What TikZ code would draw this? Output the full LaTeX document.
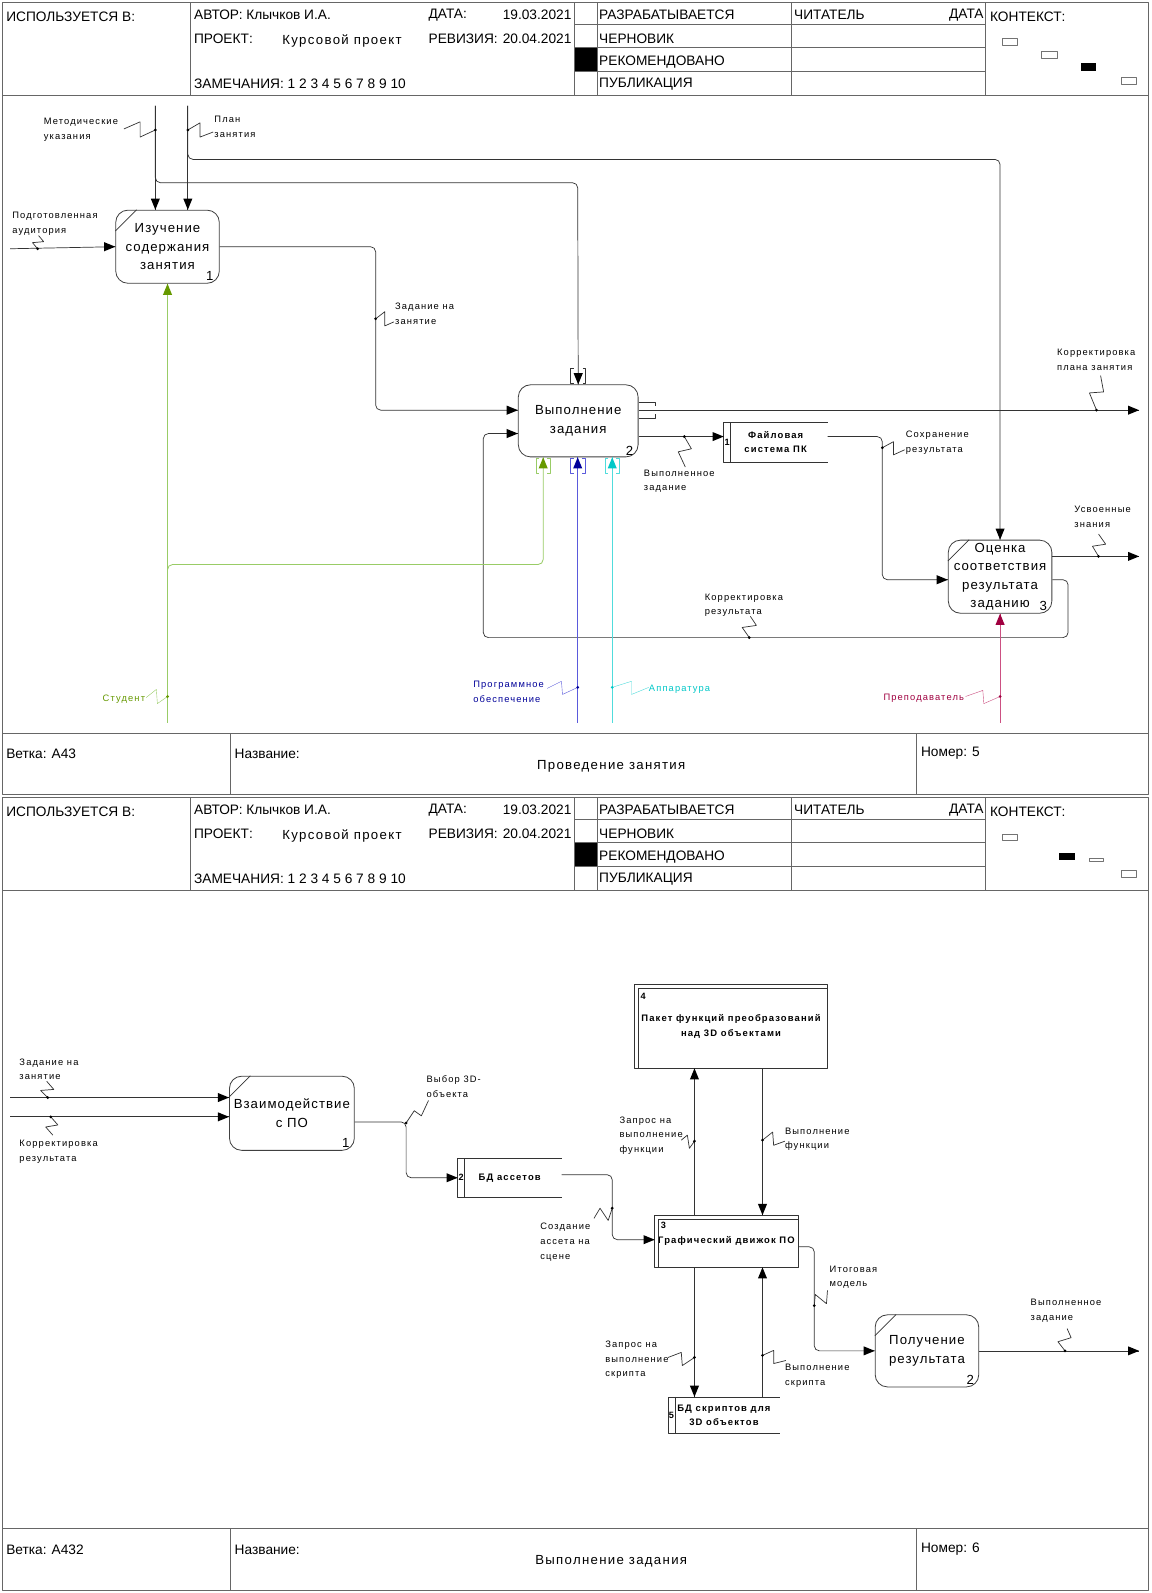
\documentclass[tikz,border=0pt]{standalone}
\usepackage{fontspec}
\setmainfont{Liberation Sans}
\newfontfamily\lblfont[LetterSpace=12]{Liberation Sans}
\newfontfamily\boxfont[LetterSpace=8]{Liberation Sans}
\newfontfamily\ttlfont[LetterSpace=10]{Liberation Sans}
\usetikzlibrary{positioning,calc}
\definecolor{stud}{RGB}{153,204,102}
\definecolor{studtxt}{RGB}{102,153,0}
\definecolor{soft}{RGB}{90,90,220}
\definecolor{softtxt}{RGB}{0,0,153}
\definecolor{hw}{RGB}{80,220,220}
\definecolor{hwtxt}{RGB}{0,200,200}
\definecolor{prep}{RGB}{204,80,130}
\definecolor{preptxt}{RGB}{160,0,64}

\begin{document}
\begin{tikzpicture}[x=1pt,y=-1pt,line join=round,
    frm/.style={draw=black!60,line width=0.9},
    ctx/.style={draw=black!55,line width=0.6},
    conn/.style={draw=black!80,line width=0.7},
    act/.style={draw=black!75,line width=0.8,rounded corners=12,minimum width=102,minimum height=72,inner sep=0,align=center,font=\boxfont\fontsize{13}{18}\selectfont,execute at begin node={\rule{0pt}{19pt}}},
    store/.style={minimum width=102,minimum height=39,inner sep=0,align=center,font=\lblfont\bfseries\fontsize{9.3}{14.5}\selectfont},
    num/.style={inner sep=0,font=\fontsize{13}{15}\selectfont},
    snum/.style={inner sep=0,font=\bfseries\fontsize{9}{11}\selectfont},
    lbl/.style={inner sep=0,anchor=north west,align=left,font=\lblfont\fontsize{9.2}{14.5}\selectfont},
    hdr/.style={inner sep=0,anchor=west,font=\fontsize{13.5}{16}\selectfont}]
    \fill [white] (0,0) rectangle (1134,1569);
    \useasboundingbox (0,0) rectangle (1134,1569);
    % sheet 1
    \draw [frm] (2,2) rectangle (1131,782);
    \draw [frm] (2,94) -- (1131,94);
    \draw [frm] (188,2) -- (188,94);
    \draw [frm] (566,2) -- (566,94);
    \draw [frm] (588,2) -- (588,94);
    \draw [frm] (780,2) -- (780,94);
    \draw [frm] (971,2) -- (971,94);
    \draw [frm] (566,24) -- (971,24);
    \draw [frm] (566,47) -- (971,47);
    \draw [frm] (566,70) -- (971,70);
    \fill [black] (566,47) rectangle (588,70);
    \draw [frm] (2,722) -- (1131,722);
    \draw [frm] (227,722) -- (227,782);
    \draw [frm] (903,722) -- (903,782);
    \draw [ctx] (987,38) rectangle (1002,45);
    \draw [ctx] (1026,51) rectangle (1041,57);
    \fill [black] (1065,62) rectangle (1079,70);
    \draw [ctx] (1104,76) rectangle (1119,83);
    \node [hdr] (hUse1) at (6,17) {ИСПОЛЬЗУЕТСЯ В:};
    \node [hdr] (hAut1) at (191,15) {АВТОР: Клычков И.А.};
    \node [hdr] (hDat1) at (422,15) {ДАТА:};
    \node [hdr,anchor=east] (hDv1) at (563,15) {19.03.2021};
    \node [hdr] (hPrj1) at (191,38) {ПРОЕКТ:};
    \node [hdr,font=\ttlfont\fontsize{13}{15}\selectfont] (hPv1) at (278,40) {Курсовой проект};
    \node [hdr] (hRev1) at (422,38) {РЕВИЗИЯ:};
    \node [hdr,anchor=east] (hRv1) at (563,38) {20.04.2021};
    \node [hdr] (hNot1) at (191,83) {ЗАМЕЧАНИЯ: 1 2 3 4 5 6 7 8 9 10};
    \node [hdr] (hW1) at (590,15) {РАЗРАБАТЫВАЕТСЯ};
    \node [hdr] (hD1) at (590,38) {ЧЕРНОВИК};
    \node [hdr] (hR1) at (590,61) {РЕКОМЕНДОВАНО};
    \node [hdr] (hP1) at (590,83) {ПУБЛИКАЦИЯ};
    \node [hdr] (hRd1) at (782,15) {ЧИТАТЕЛЬ};
    \node [hdr,anchor=east] (hRdD1) at (969,15) {ДАТА};
    \node [hdr] (hCtx1) at (975,17) {КОНТЕКСТ:};
    \node [hdr] (fBr1) at (6,742) {Ветка: А43};
    \node [hdr] (fNm1) at (231,742) {Название:};
    \node [hdr,anchor=center,font=\ttlfont\fontsize{13}{15}\selectfont] (fTt1) at (602,755) {Проведение занятия};
    \node [hdr] (fNo1) at (907,742) {Номер: 5};
    \node [act] (A1) at (165,243) {Изучение\\содержания\\занятия};
    \node [num,anchor=south east] (A1n) at ([xshift=-6,yshift=3]A1.south east) {1};
    \draw [conn] ([yshift=-21]A1.north west) -- ([xshift=21]A1.north west);
    \node [act,minimum width=118,minimum height=71] (A2) at (569.5,414.5) {Выполнение\\задания};
    \node [num,anchor=south east] (A2n) at ([xshift=-5,yshift=2]A2.south east) {2};
    \node [act] (A3) at (985,568) {Оценка\\соответствия\\результата\\заданию};
    \node [num,anchor=south east] (A3n) at ([xshift=-5,yshift=3]A3.south east) {3};
    \draw [conn] ([yshift=-21]A3.north west) -- ([xshift=21]A3.north west);
    \node [store] (S1) at (764,435.5) {Файловая\\система ПК};
    \draw [conn] (S1.north east) -- (S1.north west) -- (S1.south west) -- (S1.south east);
    \draw [conn] ([xshift=7]S1.north west) -- ([xshift=7]S1.south west);
    \node [snum] (S1n) at ([xshift=3.5]S1.west) {1};
    \coordinate (i1) at (10,245);
    \coordinate (c1) at (153,104);
    \coordinate (c2) at (185,104);
    \coordinate (o1) at (1122,404);
    \coordinate (o2) at (1122,548);
    \coordinate (m1) at (165,712);
    \coordinate (m2) at (569,712);
    \coordinate (m3) at (603,712);
    \coordinate (m4) at (985,712);
    \draw [conn] (i1) -- (A1.west);
    \fill [black] (A1.west) -- ++(-11,-4.5) -- ++(0,9);
    \draw [conn] (c1) -- ([xshift=-12]A1.north);
    \fill [black] ([xshift=-12]A1.north) -- ++(-4.5,-11) -- ++(9,0);
    \draw [conn,rounded corners=5] (c1) -- (153,180) -- (569,180) -- (A2.north);
    \fill [black] (A2.north) -- ++(-4.5,-11) -- ++(9,0);
    \draw [conn] (c2) -- ([xshift=20]A1.north);
    \fill [black] ([xshift=20]A1.north) -- ++(-4.5,-11) -- ++(9,0);
    \draw [conn,rounded corners=5] (c2) -- (185,157) -- (985,157) -- (A3.north);
    \fill [black] (A3.north) -- ++(-4.5,-11) -- ++(9,0);
    \draw [conn,rounded corners=5] (A1.east) -- (370,243) -- (370,404) -- ([yshift=10.5]A2.west);
    \fill [black] ([yshift=10.5]A2.west) -- ++(-11,-4.5) -- ++(0,9);
    \draw [conn] ([yshift=10.5]A2.east) -- (o1);
    \fill [black] (o1) -- ++(-11,-4.5) -- ++(0,9);
    \draw [conn] ([yshift=-15.5]A2.east) -- ([yshift=-15.5]A2.east -| S1.west);
    \fill [black] ([yshift=-15.5]A2.east -| S1.west) -- ++(-11,-4.5) -- ++(0,9);
    \draw [conn,rounded corners=5] ([yshift=5.5]S1.east) -- (869,430) -- (869,571) -- ([yshift=-3]A3.west);
    \fill [black] ([yshift=-3]A3.west) -- ++(-11,-4.5) -- ++(0,9);
    \draw [conn] ([yshift=20]A3.east) -- (o2);
    \fill [black] (o2) -- ++(-11,-4.5) -- ++(0,9);
    \draw [conn,rounded corners=5] ([yshift=-3]A3.east) -- (1052,571) -- (1052,628) -- (476,628) -- (476,427) -- ([yshift=-12.5]A2.west);
    \fill [black] ([yshift=-12.5]A2.west) -- ++(-11,-4.5) -- ++(0,9);
    \draw [stud,line width=0.8] (m1) -- (A1.south);
    \fill [studtxt] (A1.south) -- ++(-4.5,11) -- ++(9,0);
    \draw [stud,line width=0.8,rounded corners=5] (m1) -- (165,556) -- (535,556) -- ([xshift=-34.5]A2.south);
    \fill [studtxt] ([xshift=-34.5]A2.south) -- ++(-4.5,11) -- ++(9,0);
    \draw [soft,line width=0.8] (m2) -- ([xshift=-0.5]A2.south);
    \fill [softtxt] ([xshift=-0.5]A2.south) -- ++(-4.5,11) -- ++(9,0);
    \draw [hw,line width=0.8] (m3) -- ([xshift=33.5]A2.south);
    \fill [hwtxt] ([xshift=33.5]A2.south) -- ++(-4.5,11) -- ++(9,0);
    \draw [prep,line width=0.8] (m4) -- (A3.south);
    \fill [preptxt] (A3.south) -- ++(-4.5,11) -- ++(9,0);
    \draw [conn] (565,363) -- (562,363) -- (562,378) -- (565,378);
    \draw [conn] (574,363) -- (577,363) -- (577,378) -- (574,378);
    \draw [conn] (629,396) -- (645,396) -- (645,400);
    \draw [conn] (645,408) -- (645,412) -- (629,412);
    \draw [stud] (531,451) -- (528,451) -- (528,466) -- (531,466);
    \draw [stud] (539,451) -- (542,451) -- (542,466) -- (539,466);
    \draw [soft] (565,451) -- (562,451) -- (562,466) -- (565,466);
    \draw [soft] (573,451) -- (576,451) -- (576,466) -- (573,466);
    \draw [hw] (599,451) -- (596,451) -- (596,466) -- (599,466);
    \draw [hw] (607,451) -- (610,451) -- (610,466) -- (607,466);
    \node [lbl] (lMet) at (43,116.5) {Методические\\указания};
    \node [lbl] (lPlan) at (211,114.5) {План\\занятия};
    \node [lbl] (lAud) at (12,208.5) {Подготовленная\\аудитория};
    \node [lbl] (lZad) at (389,298.5) {Задание на\\занятие};
    \node [lbl] (lKpl) at (1041,343.5) {Корректировка\\плана занятия};
    \node [lbl] (lVyp) at (634,462.5) {Выполненное\\задание};
    \node [lbl] (lSoh) at (892,424.5) {Сохранение\\результата};
    \node [lbl] (lUsv) at (1058,498.5) {Усвоенные\\знания};
    \node [lbl] (lKres) at (694,584.5) {Корректировка\\результата};
    \node [lbl,text=studtxt] (lStud) at (101,684.5) {Студент};
    \node [lbl,text=softtxt] (lPO) at (466,670.5) {Программное\\обеспечение};
    \node [lbl,text=hwtxt] (lHw) at (639,674.5) {Аппаратура};
    \node [lbl,text=preptxt] (lPrep) at (870,683.5) {Преподаватель};
    \coordinate (d1) at (153,128);
    \coordinate (d2) at (185,128);
    \coordinate (d3) at (37,245);
    \coordinate (d4) at (370,314);
    \coordinate (d5) at (1080,404);
    \coordinate (d6) at (674,430);
    \coordinate (d7) at (869,441);
    \coordinate (d8) at (1082,548);
    \coordinate (d9) at (738,628);
    \coordinate (d10) at (165,686);
    \coordinate (d11) at (569,677);
    \coordinate (d12) at (603,677);
    \coordinate (d13) at (985,686);
    \draw [conn] (d1) -- ++(-15,7) -- ++(0,-15) -- ++(-16,7);
    \draw [conn] (d2) -- ++(12,-7) -- ++(0,14) -- ++(13,-5);
    \draw [conn] (d3) -- ++(-5,-6) -- ++(11,-1) -- ++(-5,-6);
    \draw [conn] (d4) -- ++(9,-7) -- ++(0,14) -- ++(9,-4);
    \draw [conn] (d5) -- ++(-7,-17) -- ++(14,-1) -- ++(-3,-16);
    \draw [conn] (d6) -- ++(7,12) -- ++(-13,3) -- ++(7,15);
    \draw [conn] (d7) -- ++(11,-6) -- ++(0,13) -- ++(11,-5);
    \draw [conn] (d8) -- ++(-6,-10) -- ++(13,-2) -- ++(-7,-10);
    \draw [conn] (d9) -- ++(-7,-10) -- ++(14,-2) -- ++(-6,-9);
    \draw [stud] (d10) -- ++(-10,7) -- ++(-1,-14) -- ++(-10,8);
    \draw [soft] (d11) -- ++(-15,7) -- ++(-1,-13) -- ++(-14,7);
    \draw [hw] (d12) -- ++(19,-6) -- ++(0,13) -- ++(17,-7);
    \draw [prep] (d13) -- ++(-16,7) -- ++(-1,-13) -- ++(-17,6);
    \foreach \d in {d1,d2,d3,d4,d5,d6,d7,d8,d9}
        \fill [black] (\d) circle (1.5);
    \fill [studtxt] (d10) circle (1.5);
    \fill [softtxt] (d11) circle (1.5);
    \fill [hwtxt] (d12) circle (1.5);
    \fill [preptxt] (d13) circle (1.5);
    % sheet 2
    \draw [frm] (2,785) rectangle (1131,1566);
    \draw [frm] (2,877) -- (1131,877);
    \draw [frm] (188,785) -- (188,877);
    \draw [frm] (566,785) -- (566,877);
    \draw [frm] (588,785) -- (588,877);
    \draw [frm] (780,785) -- (780,877);
    \draw [frm] (971,785) -- (971,877);
    \draw [frm] (566,807) -- (971,807);
    \draw [frm] (566,830) -- (971,830);
    \draw [frm] (566,853) -- (971,853);
    \fill [black] (566,830) rectangle (588,853);
    \draw [frm] (2,1505) -- (1131,1505);
    \draw [frm] (227,1505) -- (227,1566);
    \draw [frm] (903,1505) -- (903,1566);
    \draw [ctx] (987,822) rectangle (1002,828);
    \fill [black] (1043,840) rectangle (1059,847);
    \draw [ctx] (1073,845) rectangle (1087,848);
    \draw [ctx] (1104,857) rectangle (1119,864);
    \node [hdr] (hUse2) at (6,800) {ИСПОЛЬЗУЕТСЯ В:};
    \node [hdr] (hAut2) at (191,798) {АВТОР: Клычков И.А.};
    \node [hdr] (hDat2) at (422,798) {ДАТА:};
    \node [hdr,anchor=east] (hDv2) at (563,798) {19.03.2021};
    \node [hdr] (hPrj2) at (191,821) {ПРОЕКТ:};
    \node [hdr,font=\ttlfont\fontsize{13}{15}\selectfont] (hPv2) at (278,823) {Курсовой проект};
    \node [hdr] (hRev2) at (422,821) {РЕВИЗИЯ:};
    \node [hdr,anchor=east] (hRv2) at (563,821) {20.04.2021};
    \node [hdr] (hNot2) at (191,866) {ЗАМЕЧАНИЯ: 1 2 3 4 5 6 7 8 9 10};
    \node [hdr] (hW2) at (590,798) {РАЗРАБАТЫВАЕТСЯ};
    \node [hdr] (hD2) at (590,821) {ЧЕРНОВИК};
    \node [hdr] (hR2) at (590,844) {РЕКОМЕНДОВАНО};
    \node [hdr] (hP2) at (590,866) {ПУБЛИКАЦИЯ};
    \node [hdr] (hRd2) at (782,798) {ЧИТАТЕЛЬ};
    \node [hdr,anchor=east] (hRdD2) at (969,798) {ДАТА};
    \node [hdr] (hCtx2) at (975,800) {КОНТЕКСТ:};
    \node [hdr] (fBr2) at (6,1526) {Ветка: А432};
    \node [hdr] (fNm2) at (231,1526) {Название:};
    \node [hdr,anchor=center,font=\ttlfont\fontsize{13}{15}\selectfont] (fTt2) at (602,1538) {Выполнение задания};
    \node [hdr] (fNo2) at (907,1526) {Номер: 6};
    \node [act,minimum width=123,minimum height=73] (B1) at (287.5,1096.5) {Взаимодействие\\с ПО};
    \node [num,anchor=south east] (B1n) at ([xshift=-5,yshift=3]B1.south east) {1};
    \draw [conn] ([yshift=-21]B1.north west) -- ([xshift=21]B1.north west);
    \node [act,minimum height=71] (B2) at (913,1330.5) {Получение\\результата};
    \node [num,anchor=south east] (B2n) at ([xshift=-5,yshift=3]B2.south east) {2};
    \draw [conn] ([yshift=-21]B2.north west) -- ([xshift=21]B2.north west);
    \node [store,minimum height=38] (S2) at (502,1160) {БД ассетов};
    \draw [conn] (S2.north east) -- (S2.north west) -- (S2.south west) -- (S2.south east);
    \draw [conn] ([xshift=7]S2.north west) -- ([xshift=7]S2.south west);
    \node [snum] (S2n) at ([xshift=3.5]S2.west) {2};
    \node [store,minimum width=190,minimum height=82] (S4) at (720,1011) {Пакет функций преобразований\\над 3D объектами};
    \draw [conn] (S4.south west) rectangle (S4.north east);
    \draw [conn] ([xshift=4]S4.south west) -- ([xshift=4,yshift=-4]S4.north west) -- ([yshift=-4]S4.north east);
    \node [snum,anchor=north west] (S4n) at ([xshift=6,yshift=-8]S4.north west) {4};
    \node [store,minimum width=141,minimum height=51] (S3) at (715.5,1222.5) {Графический движок ПО};
    \draw [conn] (S3.south west) rectangle (S3.north east);
    \draw [conn] ([xshift=4]S3.south west) -- ([xshift=4,yshift=-4]S3.north west) -- ([yshift=-4]S3.north east);
    \node [snum,anchor=north west] (S3n) at ([xshift=6,yshift=-7]S3.north west) {3};
    \node [store,minimum width=110,minimum height=36] (S5) at (713,1394) {БД скриптов для\\3D объектов};
    \draw [conn] (S5.north east) -- (S5.north west) -- (S5.south west) -- (S5.south east);
    \draw [conn] ([xshift=7]S5.north west) -- ([xshift=7]S5.south west);
    \node [snum] (S5n) at ([xshift=3.5]S5.west) {5};
    \coordinate (i2) at (10,1081);
    \coordinate (i3) at (10,1100);
    \coordinate (o3) at (1122,1330.5);
    \draw [conn] (i2) -- ([yshift=15.5]B1.west);
    \fill [black] ([yshift=15.5]B1.west) -- ++(-11,-4.5) -- ++(0,9);
    \draw [conn] (i3) -- ([yshift=-3.5]B1.west);
    \fill [black] ([yshift=-3.5]B1.west) -- ++(-11,-4.5) -- ++(0,9);
    \draw [conn,rounded corners=5] ([yshift=-8.5]B1.east) -- (400,1105) -- (400,1160) -- (S2.west);
    \fill [black] (S2.west) -- ++(-11,-4.5) -- ++(0,9);
    \draw [conn,rounded corners=5] ([yshift=3]S2.east) -- (603,1157) -- (603,1221) -- ([yshift=1.5]S3.west);
    \fill [black] ([yshift=1.5]S3.west) -- ++(-11,-4.5) -- ++(0,9);
    \draw [conn] ([xshift=-31.5]S3.north) -- ([xshift=-31.5]S3.north |- S4.south);
    \fill [black] ([xshift=-31.5]S3.north |- S4.south) -- ++(-4.5,11) -- ++(9,0);
    \draw [conn] ([xshift=35.5]S3.north |- S4.south) -- ([xshift=35.5]S3.north);
    \fill [black] ([xshift=35.5]S3.north) -- ++(-4.5,-11) -- ++(9,0);
    \draw [conn] ([xshift=-31.5]S3.south) -- ([xshift=-31.5]S3.south |- S5.north);
    \fill [black] ([xshift=-31.5]S3.south |- S5.north) -- ++(-4.5,-11) -- ++(9,0);
    \draw [conn] ([xshift=35.5]S3.south |- S5.north) -- ([xshift=35.5]S3.south);
    \fill [black] ([xshift=35.5]S3.south) -- ++(-4.5,11) -- ++(9,0);
    \draw [conn,rounded corners=5] ([yshift=-5.5]S3.east) -- (802,1228) -- (802,1330.5) -- (B2.west);
    \fill [black] (B2.west) -- ++(-11,-4.5) -- ++(0,9);
    \draw [conn] (B2.east) -- (o3);
    \fill [black] (o3) -- ++(-11,-4.5) -- ++(0,9);
    \node [lbl] (lZad2) at (19,1042.5) {Задание на\\занятие};
    \node [lbl] (lKres2) at (19,1122.5) {Корректировка\\результата};
    \node [lbl] (lVyb) at (420,1059.5) {Выбор 3D-\\объекта};
    \node [lbl] (lSoz) at (532,1204.5) {Создание\\ассета на\\сцене};
    \node [lbl] (lZf) at (610,1099.5) {Запрос на\\выполнение\\функции};
    \node [lbl] (lVf) at (773,1110.5) {Выполнение\\функции};
    \node [lbl] (lZs) at (596,1320.5) {Запрос на\\выполнение\\скрипта};
    \node [lbl] (lVs) at (773,1343.5) {Выполнение\\скрипта};
    \node [lbl] (lItg) at (817,1246.5) {Итоговая\\модель};
    \node [lbl] (lVz) at (1015,1279.5) {Выполненное\\задание};
    \coordinate (e1) at (47,1081);
    \coordinate (e2) at (50,1100);
    \coordinate (e3) at (400,1106);
    \coordinate (e4) at (603,1190);
    \coordinate (e5) at (684,1124);
    \coordinate (e6) at (751,1123);
    \coordinate (e7) at (684,1337);
    \coordinate (e8) at (751,1335);
    \coordinate (e9) at (802,1286);
    \coordinate (e10) at (1049,1330.5);
    \draw [conn] (e1) -- ++(-7,-7) -- ++(13,-1) -- ++(-7,-8);
    \draw [conn] (e2) -- ++(7,8) -- ++(-12,2) -- ++(7,8);
    \draw [conn] (e3) -- ++(8,-12) -- ++(7,5) -- ++(7,-15);
    \draw [conn] (e4) -- ++(-4,12) -- ++(-8,-12) -- ++(-6,10);
    \draw [conn] (e5) -- ++(-5,7) -- ++(-2,-13) -- ++(-6,5);
    \draw [conn] (e6) -- ++(10,-8) -- ++(1,13) -- ++(11,-4);
    \draw [conn] (e7) -- ++(-12,8) -- ++(-1,-13) -- ++(-13,5);
    \draw [conn] (e8) -- ++(11,-5) -- ++(0,13) -- ++(12,-3);
    \draw [conn] (e9) -- ++(1,-11) -- ++(11,9) -- ++(1,-13);
    \draw [conn] (e10) -- ++(-7,-9) -- ++(13,-4) -- ++(-4,-9);
    \foreach \d in {e1,e2,e3,e4,e5,e6,e7,e8,e9,e10}
        \fill [black] (\d) circle (1.5);
\end{tikzpicture}
\end{document}
